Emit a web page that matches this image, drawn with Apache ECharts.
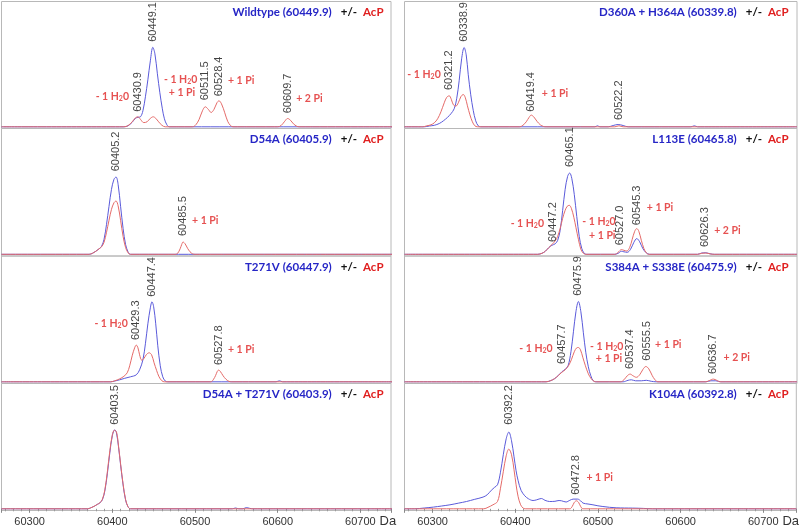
<!DOCTYPE html>
<html><head><meta charset="utf-8">
<script src="https://cdn.jsdelivr.net/npm/echarts@6/dist/echarts.min.js"></script>
<style>html,body{margin:0;padding:0;background:#fff}#c{width:800px;height:528px}</style>
</head><body><div id="c"></div>
<script>
// ---------- Panel titles ----------
const titleNames = ['Wildtype', 'D54A', 'T271V', 'D54A + T271V', 'D360A + H364A', 'L113E', 'S384A + S338E', 'K104A'];
const titleMasses = ['60449.9', '60405.9', '60447.9', '60403.9', '60339.8', '60465.8', '60475.9', '60392.8'];
const tickValues = [60300, 60400, 60500, 60600, 60700];

// ---------- Wildtype ----------
const wtBlue = [[60266,0],[60414,0],[60419,1],[60424,4.5],[60428,8.5],[60431,9.5],[60434,10],[60437,16],[60440,30],[60443,47],[60446,66],[60449,79.5],[60451.5,73],[60454.5,53],[60457.5,34],[60460.5,18],[60463,8],[60466,2],[60469,0],[60740,0]];
const wtRed = [[60266,0],[60414,0],[60419,1.2],[60424,5],[60428,9],[60431,10],[60434,7.5],[60438,4.2],[60442,5],[60446,8.5],[60449.5,10],[60452.5,8.5],[60456,5],[60460,1.5],[60464,0],[60497,0],[60501,2],[60505,7.5],[60509,16],[60512.5,20],[60516,17.5],[60519.5,14.3],[60523,17.5],[60526.5,24],[60529,26],[60532,23],[60536,14],[60539.5,5.5],[60543,1.2],[60546,0],[60600,0],[60604,1.2],[60608,5],[60612,8.3],[60615.5,6.5],[60619,3],[60623,0.6],[60626,0],[60740,0]];
const wtPeaks = [[60449.5,85,'60449.1'],[60430.5,15,'60430.9'],[60512.5,26.5,'60511.5'],[60529,30.5,'60528.4'],[60612,13.5,'60609.7']];
const wtNotes = [[60400,30,'- 1 H2O'],[60482.6,46.7,'- 1 H2O'],[60484.3,34.3,'+ 1 Pi'],[60555.8,46,'+ 1 Pi'],[60638.3,27.7,'+ 2 Pi']];

// ---------- D54A ----------
const d54Blue = [[60266,0],[60372,0],[60376,1],[60380,3],[60384,5.5],[60387,8],[60390,15],[60393,30],[60396,48],[60399,65],[60402,75],[60404.5,77.3],[60407,70],[60410,48],[60413,26],[60416,10],[60419,2.5],[60422,0],[60740,0]];
const d54Red = [[60266,0],[60372,0],[60376,1],[60380,3],[60384,5.5],[60387,7.5],[60390,12],[60393,22],[60396,34],[60399,45],[60402,51.5],[60404.5,53.3],[60407,48.5],[60410,34],[60413,18],[60416,7],[60419,1.5],[60422,0],[60476,0],[60479,1],[60482,5.5],[60484,10],[60485.5,12.3],[60488,10.5],[60491,6],[60494,2.5],[60497,0.5],[60500,0],[60740,0]];
const d54Peaks = [[60404.5,83,'60405.2'],[60485.5,18.3,'60485.5']];
const d54Notes = [[60512.4,34,'+ 1 Pi']];

// ---------- T271V ----------
const t271Blue = [[60266,0],[60398,0],[60403,0.8],[60409,2],[60415,3.5],[60422,5],[60429,7],[60433,12],[60437,22],[60440,38],[60443,58],[60446,74],[60448,80],[60450,75],[60452.5,58],[60455,36],[60458,16],[60461,5],[60464,0.8],[60467,0],[60598,0],[60602,1],[60606,0],[60740,0]];
const t271Red = [[60266,0],[60398,0],[60403,1],[60409,3],[60414,5.5],[60418,9],[60421,16],[60424,26],[60427,34],[60429,36.7],[60431,34],[60433,27],[60435.5,21.7],[60438,23],[60441,27],[60444.5,29],[60447.5,27],[60450.5,19],[60453.5,11.5],[60456.5,5],[60460,1],[60463,0],[60519,0],[60522,2],[60525,6.5],[60527,10.5],[60528.5,11.7],[60530.5,10.5],[60534,6],[60537.5,2.5],[60541,0.5],[60544,0],[60740,0]];
const t271Peaks = [[60448,85,'60447.4'],[60429,41.7,'60429.3'],[60528.5,16.7,'60527.8']];
const t271Notes = [[60398.5,57.7,'- 1 H2O'],[60555.8,32.3,'+ 1 Pi']];

// ---------- D54A + T271V ----------
const dtBlue = [[60266,0],[60370,0],[60374,1],[60378,2.5],[60382,4.5],[60385,6],[60388,9],[60391,18],[60394,35],[60397,56],[60400,73],[60403,79],[60405,76],[60407.5,62],[60410,44],[60413,24],[60416,9],[60419,2],[60422,0],[60545,0],[60549,0.8],[60553,0],[60558,0],[60562,1.2],[60566,0.5],[60570,0],[60740,0]];
const dtRed = [[60266,0],[60370,0],[60374,1],[60378,2.5],[60382,4.5],[60385,6],[60388,9.5],[60391,19],[60394,37],[60397,58],[60400,74],[60402.5,78.5],[60405,77],[60407.5,63],[60410,45],[60413,25],[60416,9.5],[60419,2],[60422,0],[60740,0]];
const dtPeaks = [[60403,84,'60403.5']];
const dtNotes = [];

// ---------- D360A + H364A ----------
const dhBlue = [[60266,0],[60290,0],[60296,0.8],[60302,1.5],[60308,3.3],[60313,6],[60318,9.5],[60322,13],[60326,18],[60329,28],[60332,46],[60335,68],[60338,79.3],[60340.5,72],[60343,52],[60346,32],[60349,16.5],[60352,6],[60355,1],[60358,0],[60496,0],[60499,1],[60502,0],[60512,0],[60518,1.3],[60524,2.3],[60530,1.3],[60536,0],[60612,0],[60616,1],[60620,0],[60740,0]];
const dhRed = [[60266,0],[60288,0],[60293,1],[60298,2],[60302,4],[60306,8],[60310,15],[60314,24],[60317,29.5],[60320,31],[60322.5,27.5],[60325,22],[60328,20.7],[60331,24],[60334,30],[60337,32.3],[60339.5,29],[60342,21],[60345,12],[60348,5],[60351,1],[60354,0],[60405,0],[60409,1.5],[60413,5],[60416.5,9.5],[60419,11.7],[60422,10],[60426,5.5],[60430,2],[60434,0.3],[60437,0],[60520,0],[60525,1],[60530,0],[60740,0]];
const dhPeaks = [[60338,85,'60338.9'],[60319.5,36.7,'60321.2'],[60419,15,'60419.4'],[60525,6.7,'60522.2']];
const dhNotes = [[60289.6,51.7,'- 1 H2O'],[60447.8,32.7,'+ 1 Pi']];

// ---------- L113E ----------
const lBlue = [[60266,0],[60427,0],[60432,1],[60436,3],[60440,6.5],[60444,9],[60448,10.5],[60451,14],[60454,24],[60457,44],[60460,65],[60463,78],[60465.5,81.3],[60468,76],[60471,60],[60474,38],[60477,18],[60480,6],[60483,1],[60486,0],[60520,0],[60524,1],[60528,3],[60531,2.5],[60535,2],[60539,5],[60543,12],[60546.5,15.7],[60550,12.5],[60554,5.5],[60558,1.5],[60562,0],[60620,0],[60625,1.3],[60630,1.5],[60635,0.5],[60640,0],[60740,0]];
const lRed = [[60266,0],[60427,0],[60432,1],[60436,3],[60440,6.5],[60444,9.7],[60448,13.5],[60451,18],[60454,26],[60457,36],[60460,44],[60462.5,48],[60465,49],[60467.5,46],[60470.5,37],[60473,27],[60476,15],[60479,5],[60482,1],[60485,0],[60520,0],[60524,2],[60528,4.7],[60531,4],[60534.5,3.3],[60538,7],[60541,15],[60544,23],[60546.5,25.7],[60549,23],[60552,14],[60555,6],[60558,1.5],[60561,0],[60620,0],[60625,1],[60630,1.3],[60635,0.4],[60640,0],[60740,0]];
const lPeaks = [[60465.5,87.3,'60465.1'],[60445,12.3,'60447.2'],[60526.5,9,'60527.0'],[60547,29,'60545.3'],[60629,7.3,'60626.3']];
const lNotes = [[60414.3,30.7,'- 1 H2O'],[60500.9,32.3,'- 1 H2O'],[60504.9,19,'+ 1 Pi'],[60574.6,46.7,'+ 1 Pi'],[60655.9,23.3,'+ 2 Pi']];

// ---------- S384A + S338E ----------
const sBlue = [[60266,0],[60437,0],[60442,1],[60447,3],[60452,6.5],[60456,10],[60460,12.5],[60463.5,16],[60467,30],[60470,50],[60473,70],[60476,80.3],[60479,70],[60482,49],[60485,29],[60488,15],[60491,6],[60494,1],[60497,0],[60530,0],[60536,1.5],[60540,2],[60545,1],[60552,1],[60558,1.5],[60564,0.5],[60570,0],[60630,0],[60636,1],[60642,1],[60648,0],[60740,0]];
const sRed = [[60266,0],[60437,0],[60442,1],[60447,3],[60452,6.5],[60456,9.5],[60460,12],[60464,16],[60467.5,22],[60471,30],[60474,34],[60476,34.3],[60478.5,32],[60481.5,24],[60484.5,16],[60488,8],[60491.5,3],[60495,0.5],[60498,0],[60527,0],[60531,2],[60535,6],[60538.5,7.7],[60542,6],[60546,4.5],[60550,7],[60554,12.5],[60557.5,15.3],[60561,13],[60565,6.5],[60568.5,2],[60572,0],[60630,0],[60634,1.2],[60639,2.7],[60643,1.5],[60647,0],[60740,0]];
const sPeaks = [[60476,86,'60475.9'],[60456,17.7,'60457.7'],[60538.3,12.7,'60537.4'],[60558.5,21,'60555.5'],[60639,7.7,'60636.7']];
const sNotes = [[60424.8,33.3,'- 1 H2O'],[60510.2,35.3,'- 1 H2O'],[60513,23.3,'+ 1 Pi'],[60584.6,36.7,'+ 1 Pi'],[60667.2,23.7,'+ 2 Pi']];

// ---------- K104A ----------
const kBlue = [[60266,0],[60278,0],[60290,0.8],[60301,1.7],[60311,2.8],[60321,4],[60331,5.6],[60341,7.3],[60351,9.5],[60361,11.7],[60366,14],[60371,18.5],[60375,21.5],[60378.5,24],[60382,36],[60385.5,54],[60389,70],[60392.2,76.7],[60395.5,68],[60398.5,52],[60401,38],[60403.5,28],[60407,18.5],[60411.5,13],[60416,10],[60421.5,8.3],[60426,9],[60431.5,10.3],[60436,8.5],[60441.5,7.3],[60448,7.5],[60453,8.3],[60456,8],[60461.5,6.8],[60466,8.5],[60470,9.7],[60475.5,9.7],[60479,8],[60482,5.7],[60488,4.8],[60494,4],[60500,3],[60506,2.3],[60514,1.5],[60522,1],[60532,0.8],[60542,0.7],[60555,0.4],[60566,0],[60740,0]];
const kRed = [[60266,0],[60362,0],[60367,1.5],[60373,4],[60378.5,7.3],[60382,20],[60385.5,37],[60389,53],[60392.2,59.7],[60395.5,54],[60398.5,39],[60401,24],[60403.5,12],[60406.5,4],[60409.5,0.7],[60412,0],[60466,0],[60469,2.5],[60471.5,6.5],[60474,8],[60476.5,6.5],[60479,2.5],[60482,0],[60740,0]];
const kPeaks = [[60392.2,84,'60392.2'],[60474,14,'60472.8']];
const kNotes = [[60502.1,30.7,'+ 1 Pi']];

// panel order: left column top->bottom, right column top->bottom
const blues = [wtBlue, d54Blue, t271Blue, dtBlue, dhBlue, lBlue, sBlue, kBlue];
const reds = [wtRed, d54Red, t271Red, dtRed, dhRed, lRed, sRed, kRed];
const peaks = [wtPeaks, d54Peaks, t271Peaks, dtPeaks, dhPeaks, lPeaks, sPeaks, kPeaks];
const notes = [wtNotes, d54Notes, t271Notes, dtNotes, dhNotes, lNotes, sNotes, kNotes];

// ---------- layout ----------
const colLeft = [1.5, 404.5], colWidth = [389.5, 392.5], colMax = [60737, 60740];
const rowTop = [1.5, 128.5, 256, 383.5], rowH = [127, 127.5, 127.5, 127];
const BLUE = '#5a5ada', RED = '#e46a68', NOTE = '#e02525';
const grids = [], xAxes = [], yAxes = [], series = [], titles = [];
const noteStyle = {color: NOTE, fontSize: 10.5, fontWeight: 700, fontFamily: 'Lato'};

for (let i = 0; i < 8; i++) {
  const c = i < 4 ? 0 : 1, r = i % 4, bottom = r === 3;
  grids.push({left: colLeft[c], top: rowTop[r], width: colWidth[c], height: rowH[r],
    show: true, borderColor: '#b8b8b8', borderWidth: 1, backgroundColor: 'transparent'});
  xAxes.push({type: 'value', gridIndex: i, min: 60266, max: colMax[c],
    axisLine: {show: false}, splitLine: {show: false},
    axisTick: {show: bottom, length: 4, lineStyle: {color: '#888'}},
    minorTick: {show: bottom, splitNumber: 10, length: 2.5, lineStyle: {color: '#999'}},
    axisLabel: {show: bottom, showMinLabel: false, showMaxLabel: false, margin: 6,
      formatter: v => (tickValues.indexOf(v) >= 0 ? String(v) : ''),
      color: '#333', fontSize: 11, fontFamily: 'Liberation Sans'},
    name: bottom ? 'Da' : '', nameLocation: 'end', nameGap: 0,
    nameTextStyle: {align: 'right', verticalAlign: 'top', padding: [6, 0, 0, 0], color: '#333', fontSize: 13, fontFamily: 'Liberation Sans'}
  });
  yAxes.push({type: 'value', gridIndex: i, min: -1.7, max: rowH[r] - 1.7, show: false});
  series.push({type: 'line', xAxisIndex: i, yAxisIndex: i, data: blues[i], smooth: 0.35,
    showSymbol: false, silent: true, lineStyle: {color: BLUE, width: 1}, z: 2});
  series.push({type: 'line', xAxisIndex: i, yAxisIndex: i, data: reds[i], smooth: 0.35,
    showSymbol: false, silent: true, lineStyle: {color: RED, width: 1}, z: 3});
  series.push({type: 'scatter', xAxisIndex: i, yAxisIndex: i, data: peaks[i], symbolSize: 1,
    itemStyle: {color: 'rgba(0,0,0,0)'}, silent: true, z: 4,
    label: {show: true, position: 'inside', rotate: 90, align: 'left', verticalAlign: 'middle',
      formatter: p => p.data[2], color: '#111', fontSize: 11, fontFamily: 'Liberation Sans'}});
  series.push({type: 'scatter', xAxisIndex: i, yAxisIndex: i, data: notes[i], symbolSize: 1,
    itemStyle: {color: 'rgba(0,0,0,0)'}, silent: true, z: 4,
    label: {show: true, position: 'inside', align: 'center', verticalAlign: 'middle',
      formatter: p => '{n|' + p.data[2].replace('H2O', 'H}{s|2}{n|0') + '}',
      color: NOTE, fontWeight: 700, fontFamily: 'Lato', fontSize: 10.5,
      rich: {n: noteStyle,
        s: {color: NOTE, fontSize: 7, fontWeight: 700, fontFamily: 'Lato', verticalAlign: 'bottom', padding: [4, 0, 0, 0]}}}});
  titles.push({text: '{b|' + titleNames[i] + ' (' + titleMasses[i] + ')}{k|+/-}{r|AcP}',
    right: c === 0 ? 416.5 : 11.5, top: rowTop[r] + 5, padding: 0,
    textStyle: {rich: {
      b: {color: '#2626c6', fontWeight: 700, fontSize: 11.5, fontFamily: 'Lato'},
      k: {color: '#111', fontWeight: 700, fontSize: 11.5, fontFamily: 'Lato', padding: [0, 6, 0, 9]},
      r: {color: '#e02020', fontWeight: 700, fontSize: 11.5, fontFamily: 'Lato'}}}});
}

const chart = echarts.init(document.getElementById('c'), null, {renderer: 'canvas'});
chart.setOption({animation: false, title: titles, grid: grids, xAxis: xAxes, yAxis: yAxes, series: series});
</script></body></html>
